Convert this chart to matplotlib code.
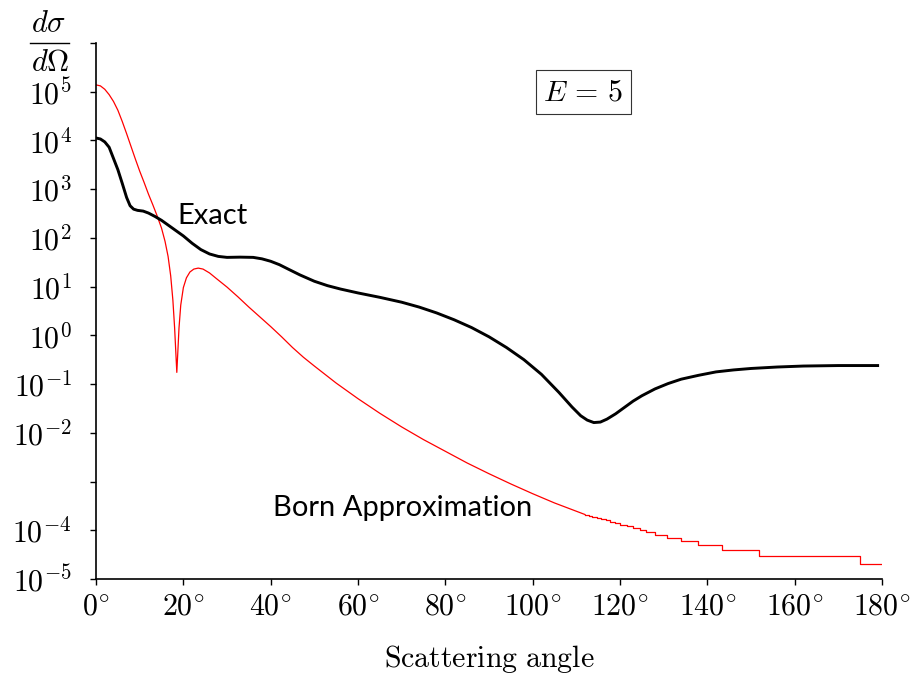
import matplotlib
matplotlib.use("Agg")
import matplotlib.pyplot as plt
from matplotlib.lines import Line2D
from matplotlib.ticker import FixedLocator, FixedFormatter

plt.rcParams["mathtext.fontset"] = "cm"

# exact cross section (log10 of dsigma/dOmega) vs scattering angle in degrees
exact_angle = [0, 1, 2, 3, 4, 5, 6, 7, 7.8, 8.6, 9.5, 10.8, 12, 13.5, 15, 17.5, 20,
               22, 24, 26, 28, 30, 33, 36, 38, 40, 42, 44, 46.7, 50, 53, 56, 60, 65,
               70, 74, 78, 82, 86, 90, 94, 98, 102, 106, 109, 111, 112.5, 114, 115.5,
               117, 119, 121, 123, 125, 128, 131, 134, 138, 142, 146, 150, 156, 162,
               170, 179]
exact_log = [4.05, 4.03, 3.97, 3.86, 3.63, 3.40, 3.12, 2.83, 2.66, 2.59, 2.565, 2.55,
             2.51, 2.44, 2.36, 2.20, 2.04, 1.89, 1.76, 1.67, 1.62, 1.60, 1.605, 1.60,
             1.57, 1.52, 1.45, 1.36, 1.24, 1.11, 1.02, 0.95, 0.87, 0.78, 0.68, 0.58,
             0.46, 0.32, 0.16, -0.03, -0.25, -0.50, -0.80, -1.17, -1.47, -1.65, -1.74,
             -1.79, -1.78, -1.72, -1.61, -1.48, -1.35, -1.24, -1.10, -0.99, -0.90,
             -0.82, -0.75, -0.71, -0.68, -0.65, -0.63, -0.62, -0.62]

# Born approximation, smooth part
born_angle = [0, 1, 2, 3, 4, 5, 6, 7, 8, 9, 10, 11, 12, 13, 14, 15, 15.8, 16.5, 17.1,
              17.6, 18.0, 18.3, 18.5, 18.7, 19.0, 19.4, 20, 20.7, 21.5, 22.4, 23.4,
              24.5, 26, 27.5, 30, 32.5, 35, 37.5, 40, 42.5, 45, 47.5, 50, 55, 60, 65,
              70, 75, 80, 85, 90, 95, 100, 105, 110, 112]
born_log = [5.14, 5.12, 5.05, 4.94, 4.80, 4.62, 4.39, 4.14, 3.88, 3.62, 3.37, 3.14,
            2.90, 2.68, 2.45, 2.20, 1.93, 1.62, 1.22, 0.72, 0.15, -0.40, -0.76, -0.40,
            0.15, 0.62, 0.98, 1.18, 1.30, 1.36, 1.38, 1.36, 1.28, 1.17, 0.99, 0.79,
            0.58, 0.38, 0.18, -0.03, -0.25, -0.45, -0.63, -0.98, -1.30, -1.60, -1.88,
            -2.14, -2.38, -2.62, -2.84, -3.05, -3.25, -3.44, -3.61, -3.678]

# Born approximation tail, values printed in units of 1e-5
born_tail_angle = [112, 112.9, 113.7, 114.7, 115.6, 116.7, 117.7, 118.9, 120.1, 121.5,
                   122.9, 124.5, 125.9, 127.9, 130.7, 133.9, 137.8, 143.3, 151.8,
                   175.0, 180]
born_tail_level = [21, 20, 19, 18, 17, 16, 15, 14, 13, 12, 11, 10, 9, 8, 7, 6, 5, 4,
                   3, 2, 2]

ytick_pos = [1e-5, 1e-4, 1e-3, 1e-2, 1e-1, 1e0, 1e1, 1e2, 1e3, 1e4, 1e5, 1e6]
ytick_lab = [r"$10^{-5}$", r"$10^{-4}$", "", r"$10^{-2}$", r"$10^{-1}$", r"$10^{0}$",
             r"$10^{1}$", r"$10^{2}$", r"$10^{3}$", r"$10^{4}$", r"$10^{5}$", ""]
xtick_pos = [0, 20, 40, 60, 80, 100, 120, 140, 160, 180]
xtick_lab = [r"$%d^{\circ}$" % a for a in xtick_pos]

W, H = 912, 677
fig = plt.figure(figsize=(W / 100, H / 100), dpi=100)
ax = fig.add_axes([0.1053, 0.1448, 0.8618, 0.7917])

ax.plot(born_angle, [10 ** v for v in born_log], color="red", lw=0.9)
ax.plot(born_tail_angle, [k * 1e-5 for k in born_tail_level], color="red", lw=0.9,
        drawstyle="steps-post")
ax.plot(exact_angle, [10 ** v for v in exact_log], color="black", lw=2.1)

ax.set_yscale("log")
ax.set_xlim(0, 180)
ax.set_ylim(1e-5, 1e6)
ax.yaxis.set_major_locator(FixedLocator(ytick_pos))
ax.yaxis.set_major_formatter(FixedFormatter(ytick_lab))
ax.yaxis.set_minor_locator(FixedLocator([]))
ax.xaxis.set_major_locator(FixedLocator(xtick_pos))
ax.xaxis.set_major_formatter(FixedFormatter(xtick_lab))

for side in ("top", "right"):
    ax.spines[side].set_visible(False)
for side in ("left", "bottom"):
    ax.spines[side].set_linewidth(1.2)
ax.tick_params(direction="out", length=4.5, width=1.0, labelsize=21.5)
ax.tick_params(axis="y", pad=13)
ax.tick_params(axis="x", pad=5)

ax.set_xlabel(r"$\mathrm{Scattering\ angle}$", fontsize=21.5, labelpad=16)

# y axis label as a stacked fraction above the axis
fig.text(48.5 / W, 1 - 32 / H, r"$d\sigma$", fontsize=22, ha="center", va="baseline")
fig.text(50 / W, 1 - 71 / H, r"$d\Omega$", fontsize=22, ha="center", va="baseline")
fig.add_artist(Line2D([30 / W, 69 / W], [1 - 42.7 / H] * 2, transform=fig.transFigure,
                      color="black", lw=1.0))

ax.text(18.6, 10 ** 2.45, "Exact", family="Lato", fontsize=21, ha="left", va="center")
ax.text(40.5, 10 ** -3.54, "Born Approximation", family="Lato", fontsize=21,
        ha="left", va="center")
ax.text(0.62, 0.909, r"$E\,=\,5$", transform=ax.transAxes, fontsize=21.5,
        ha="center", va="center",
        bbox=dict(boxstyle="square,pad=0.25", fc="white", ec="#333333", lw=0.8))

fig.savefig("out.png", dpi=100)
